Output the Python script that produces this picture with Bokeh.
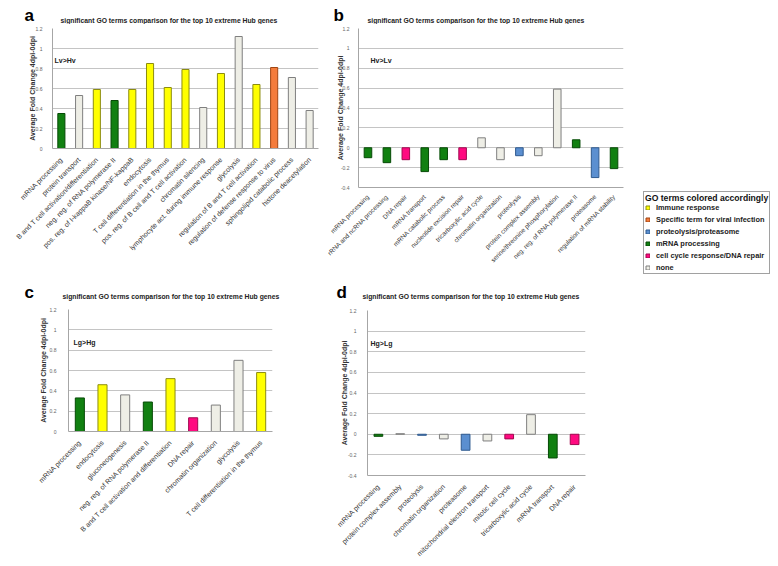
import math
from bokeh.plotting import figure
from bokeh.layouts import row, column
from bokeh.models import (FactorRange, Range1d, FixedTicker, Label, Legend, Spacer,
                          LegendItem, ColumnDataSource, PrintfTickFormatter)
from bokeh.embed import file_html
from bokeh.resources import INLINE

# ---------------- data ----------------
a_terms = ["mRNA processing", "protein transport", "B and T cell activation/differentiation",
           "neg. reg. of RNA polymerase II", "pos. reg. of I-kappaB kinase/NF-kappaB", "endocytosis",
           "T cell differentiation in the thymus", "pos. reg. of B cell and T cell activation",
           "chromatin silencing", "lymphocyte act. during immune response", "glycolysis",
           "regulation of B and T cell activation", "regulation of defense response to virus",
           "sphingolipid catabolic process", "histone deacetylation"]
a_values = [0.35, 0.53, 0.59, 0.48, 0.59, 0.85, 0.61, 0.79, 0.41, 0.75, 1.12, 0.64, 0.81, 0.71, 0.38]
a_groups = ["mrna", "none", "immune", "mrna", "immune", "immune", "immune", "immune", "none",
            "immune", "none", "immune", "viral", "none", "none"]

b_terms = ["mRNA processing", "rRNA and ncRNA processing", "DNA repair", "mRNA transport",
           "mRNA catabolic process", "nucleotide excision repair", "tricarboxylic acid cycle",
           "chromatin organization", "proteolysis", "protein complex assembly",
           "serine/threonine phosphorylation", "neg. reg. of RNA polymerase II", "proteasome",
           "regulation of mRNA stability"]
b_values = [-0.10, -0.15, -0.12, -0.24, -0.12, -0.12, 0.10, -0.12, -0.08, -0.08, 0.59, 0.08, -0.30, -0.21]
b_groups = ["mrna", "mrna", "dna", "mrna", "mrna", "dna", "none", "none", "proteo", "none",
            "none", "mrna", "proteo", "mrna"]

c_terms = ["mRNA processing", "endocytosis", "gluconeogenesis", "neg. reg. of RNA polymerase II",
           "B and T cell activation and differentiation", "DNA repair", "chromatin organization",
           "glycolysis", "T cell differentiation in the thymus"]
c_values = [0.33, 0.46, 0.36, 0.29, 0.52, 0.135, 0.26, 0.70, 0.58]
c_groups = ["mrna", "immune", "none", "mrna", "immune", "dna", "none", "none", "immune"]

d_terms = ["mRNA processing", "protein complex assembly", "proteolysis", "chromatin organization",
           "proteasome", "mitochondrial electron transport", "mitotic cell cycle",
           "tricarboxylic acid cycle", "mRNA transport", "DNA repair"]
d_values = [-0.02, 0.005, -0.01, -0.045, -0.155, -0.065, -0.045, 0.19, -0.23, -0.10]
d_groups = ["mrna", "none", "proteo", "none", "proteo", "none", "dna", "none", "mrna", "dna"]

tick_values = [-0.4, -0.2, 0, 0.2, 0.4, 0.6, 0.8, 1, 1.2]

group_keys = ["immune", "viral", "proteo", "mrna", "dna", "none"]
group_labels = ["Immune response", "Specific term for viral infection", "proteolysis/proteasome",
                "mRNA processing", "cell cycle response/DNA repair", "none"]

TITLE = "significant GO terms comparison for the top 10 extreme Hub genes"
YLABEL = "Average Fold Change 4dpi-0dpi"

# ---------------- styles ----------------
FONT = "Liberation Sans"
FILL = {"immune": "#ffff00", "viral": "#f47c3c", "proteo": "#5b8fd0",
        "mrna": "#118011", "dna": "#ff0a80", "none": "#eeeee6"}
LINE = {"immune": "#8c8c10", "viral": "#a04512", "proteo": "#2f5a8f",
        "mrna": "#064a06", "dna": "#a0084f", "none": "#7f7f7f"}


def header(width, height, letter, letter_x, title_x, title_y):
    h = figure(width=width, height=height, output_backend="svg", toolbar_location=None,
               min_border=0, title=None, x_range=Range1d(0, 1), y_range=Range1d(0, 1),
               frame_align=False)
    h.axis.visible = False
    h.grid.visible = False
    h.outline_line_color = None
    h.add_layout(Label(x=letter_x, y=9, x_units="screen", y_units="screen", text=letter,
                       text_font=FONT, text_font_size="17px", text_font_style="bold",
                       text_color="#000000", text_baseline="alphabetic"))
    h.add_layout(Label(x=title_x, y=title_y, x_units="screen", y_units="screen", text=TITLE,
                       text_font=FONT, text_font_size="6.8px", text_font_style="bold",
                       text_color="#222222", text_baseline="middle"))
    return h


def panel(terms, values, groups, ymin, tag, width, height, bl, br, bt, bb,
          tag_dx, ylab_standoff, tick_standoff, xfont="7px", xstand=4):
    p = figure(width=width, height=height, x_range=FactorRange(*terms),
               y_range=Range1d(ymin, 1.2), output_backend="svg", toolbar_location=None,
               title=None, frame_align=False,
               min_border_left=bl, min_border_right=br, min_border_top=bt, min_border_bottom=bb)
    src = ColumnDataSource(dict(term=terms, value=values,
                                fill=[FILL[g] for g in groups], line=[LINE[g] for g in groups]))
    p.vbar(x="term", top="value", bottom=0, width=0.4, fill_color="fill", line_color="line",
           line_width=1, source=src)

    ticks = [t for t in tick_values if t >= ymin - 1e-9]
    ticker = FixedTicker(ticks=ticks)
    p.yaxis.ticker = ticker
    p.ygrid.ticker = ticker
    p.yaxis.formatter = PrintfTickFormatter(format="%g")
    p.ygrid.grid_line_color = "#c4c4c4"
    p.ygrid.grid_line_width = 1
    p.xgrid.visible = False
    p.outline_line_color = None

    p.yaxis.major_tick_line_color = None
    p.yaxis.minor_tick_line_color = None
    p.yaxis.axis_line_color = "#a6a6a6"
    p.yaxis.major_label_text_font = FONT
    p.yaxis.major_label_text_font_size = "5px"
    p.yaxis.major_label_text_color = "#666666"
    p.yaxis.major_label_standoff = tick_standoff
    p.yaxis.axis_label = YLABEL
    p.yaxis.axis_label_text_font = FONT
    p.yaxis.axis_label_text_font_size = "7px"
    p.yaxis.axis_label_text_font_style = "bold"
    p.yaxis.axis_label_text_color = "#333333"
    p.yaxis.axis_label_standoff = ylab_standoff

    p.xaxis.major_label_orientation = math.pi / 4
    p.xaxis.major_tick_line_color = None
    p.xaxis.minor_tick_line_color = None
    p.xaxis.axis_line_color = "#a6a6a6"
    p.xaxis.major_label_text_font = FONT
    p.xaxis.major_label_text_font_size = xfont
    p.xaxis.major_label_text_color = "#333333"
    p.xaxis.major_label_standoff = xstand

    p.add_layout(Label(x=0, y=0.88, x_offset=tag_dx, text=tag, text_font=FONT,
                       text_font_size="7px", text_font_style="bold", text_color="#222222",
                       text_baseline="middle"))
    return p


# panel a: frame x 52..318, y 28..148
ha = header(319, 24, "a", 24, 60, 4.5)
pa = panel(a_terms, a_values, a_groups, 0, "Lv>Hv", 319, 254, 52, 1, 4, 130, 2, -3, 4)
# panel b: frame x 358..623, y 28..187
hb = header(317, 24, "b", 14, 48, 4.5)
pb = panel(b_terms, b_values, b_groups, -0.4, "Hv>Lv", 317, 254, 39, 13, 4, 91, 12, -6, 3,
           xfont="6.4px", xstand=2)
# panel c: frame x 68..272, y 309..431
hc = header(335, 23, "c", 24, 62, 5)
pc = panel(c_terms, c_values, c_groups, 0, "Lg>Hg", 335, 265, 68, 63, 8, 135, 5, 0, 6)
# panel d: frame x 367..585, y 310..475
hd = header(280, 23, "d", 1, 27, 5)
pd = panel(d_terms, d_values, d_groups, -0.4, "Hg>Lg", 280, 265, 32, 30, 9, 91, 3, -3, 5)

# ---------------- legend panel ----------------
pl = figure(width=132, height=84, output_backend="svg", toolbar_location=None, min_border=0,
            title=None, x_range=Range1d(0, 1), y_range=Range1d(0, 1), frame_align=False)
pl.axis.visible = False
pl.grid.visible = False
pl.outline_line_color = None
items = []
for key, lab in zip(group_keys, group_labels):
    r = pl.vbar(x=[0.5], top=[float("nan")], bottom=[float("nan")], width=0.1,
                fill_color=FILL[key], line_color=LINE[key])
    items.append(LegendItem(label=lab, renderers=[r]))
leg = Legend(items=items, location="top_left", title="GO terms colored accordingly",
             title_text_font=FONT, title_text_font_size="8.6px", title_text_font_style="bold",
             title_text_color="#111111", title_standoff=0,
             label_text_font=FONT, label_text_font_size="7.4px", label_text_font_style="bold",
             label_text_color="#222222", label_height=9, label_standoff=6,
             glyph_width=5, glyph_height=5, spacing=3, padding=1, margin=0,
             border_line_color="#444444", border_line_width=1, background_fill_alpha=1)
pl.add_layout(leg, "center")

top = row(column(ha, pa), column(hb, pb), Spacer(width=7),
          column(Spacer(height=191), pl))
bottom = row(column(hc, pc), column(hd, pd))
layout = column(top, bottom)
open("out.html", "w").write(file_html(layout, INLINE))
